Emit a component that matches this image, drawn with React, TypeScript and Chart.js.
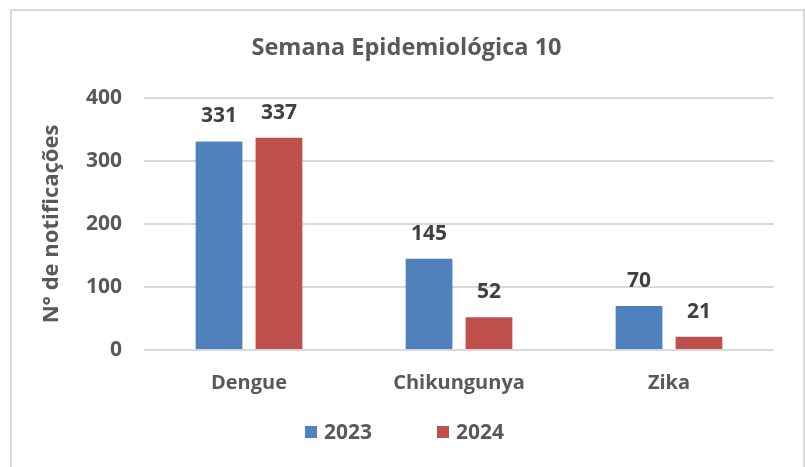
import React, { useEffect, useRef } from "react";
import { Chart, registerables } from "chart.js";

Chart.register(...registerables);

const categories = ["Dengue", "Chikungunya", "Zika"];
const series2023 = [331, 145, 70];
const series2024 = [337, 52, 21];
const seriesLabels = ["2023", "2024"];
const seriesColors = ["#4f81bd", "#c0504d"];
const yTicks = [0, 100, 200, 300, 400];
const titleText = "Semana Epidemiológica 10";
const yAxisTitle = "N° de notificações";

const FONT = "'Open Sans', sans-serif";

const valueLabels = {
  id: "valueLabels",
  afterDatasetsDraw(chart: any) {
    const ctx = chart.ctx;
    ctx.save();
    ctx.font = `bold 21px ${FONT}`;
    ctx.fillStyle = "#404040";
    ctx.textAlign = "center";
    ctx.textBaseline = "middle";
    chart.data.datasets.forEach((ds: any, i: number) => {
      const meta = chart.getDatasetMeta(i);
      meta.data.forEach((el: any, j: number) => {
        ctx.fillText(String(ds.data[j]), el.x, el.y - 25);
      });
    });
    ctx.restore();
  },
};

const titleAndLegend = {
  id: "titleAndLegend",
  afterDraw(chart: any) {
    const ctx = chart.ctx;
    const w = chart.width;
    ctx.save();
    // title
    ctx.font = `bold 23.5px ${FONT}`;
    ctx.fillStyle = "#595959";
    ctx.textAlign = "center";
    ctx.textBaseline = "middle";
    ctx.fillText(titleText, w / 2 + 4, 48);
    // legend
    ctx.font = `bold 21px ${FONT}`;
    const box = 12;
    const gapText = 7;
    const gapItems = 65;
    const widths = seriesLabels.map((t) => box + gapText + ctx.measureText(t).width);
    const total = widths.reduce((a, b) => a + b, 0) + gapItems * (widths.length - 1);
    let x = w / 2 + 2 - total / 2;
    const y = 432;
    ctx.textAlign = "left";
    seriesLabels.forEach((t, i) => {
      ctx.fillStyle = seriesColors[i];
      ctx.fillRect(x, y - box / 2, box, box);
      ctx.fillStyle = "#595959";
      ctx.fillText(t, x + box + gapText, y + 1);
      x += widths[i] + gapItems;
    });
    ctx.restore();
  },
};

export default function App() {
  const ref = useRef<HTMLCanvasElement | null>(null);
  useEffect(() => {
    if (!ref.current) return;
    const chart = new Chart(ref.current, {
      type: "bar",
      data: {
        labels: categories,
        datasets: [
          {
            label: seriesLabels[0],
            data: series2023,
            backgroundColor: seriesColors[0],
            categoryPercentage: 0.571,
            barPercentage: 0.78,
          },
          {
            label: seriesLabels[1],
            data: series2024,
            backgroundColor: seriesColors[1],
            categoryPercentage: 0.571,
            barPercentage: 0.78,
          },
        ],
      },
      options: {
        responsive: false,
        animation: false,
        devicePixelRatio: 1,
        layout: { padding: { left: 20, right: 31, top: 98, bottom: 67 } },
        plugins: {
          title: { display: false },
          legend: { display: false },
          tooltip: { enabled: false },
        },
        scales: {
          x: {
            grid: { display: false },
            border: { display: false },
            ticks: {
              color: "#595959",
              font: { family: FONT, size: 20, weight: "bold" },
              padding: 13,
            },
            afterFit(scale: any) {
              scale.height = 50;
            },
          },
          y: {
            min: 0,
            max: 400,
            afterBuildTicks(scale: any) {
              scale.ticks = yTicks.map((v) => ({ value: v }));
            },
            grid: { color: "#d9d9d9", lineWidth: 2, drawTicks: false },
            border: { display: false },
            ticks: {
              color: "#595959",
              font: { family: FONT, size: 21, weight: "bold" },
              padding: 22,
            },
            title: {
              display: true,
              text: yAxisTitle,
              color: "#595959",
              font: { family: FONT, size: 22, weight: "bold", lineHeight: 1.2 },
              padding: { top: 19, bottom: 0 },
            },
            afterFit(scale: any) {
              scale.width = 124;
            },
          },
        },
      },
      plugins: [valueLabels, titleAndLegend],
    });
    return () => chart.destroy();
  }, []);

  return (
    <div
      style={{
        position: "absolute",
        left: 0,
        top: 0,
        width: 805,
        height: 467,
        overflow: "hidden",
        background: "#ffffff",
      }}
    >
      <div
        style={{
          position: "absolute",
          left: 10,
          top: 9,
          width: 791,
          height: 470,
          border: "2px solid #d9d9d9",
        }}
      />
      <canvas
        ref={ref}
        width={805}
        height={467}
        style={{ position: "absolute", left: 0, top: 0, width: 805, height: 467 }}
      />
    </div>
  );
}
